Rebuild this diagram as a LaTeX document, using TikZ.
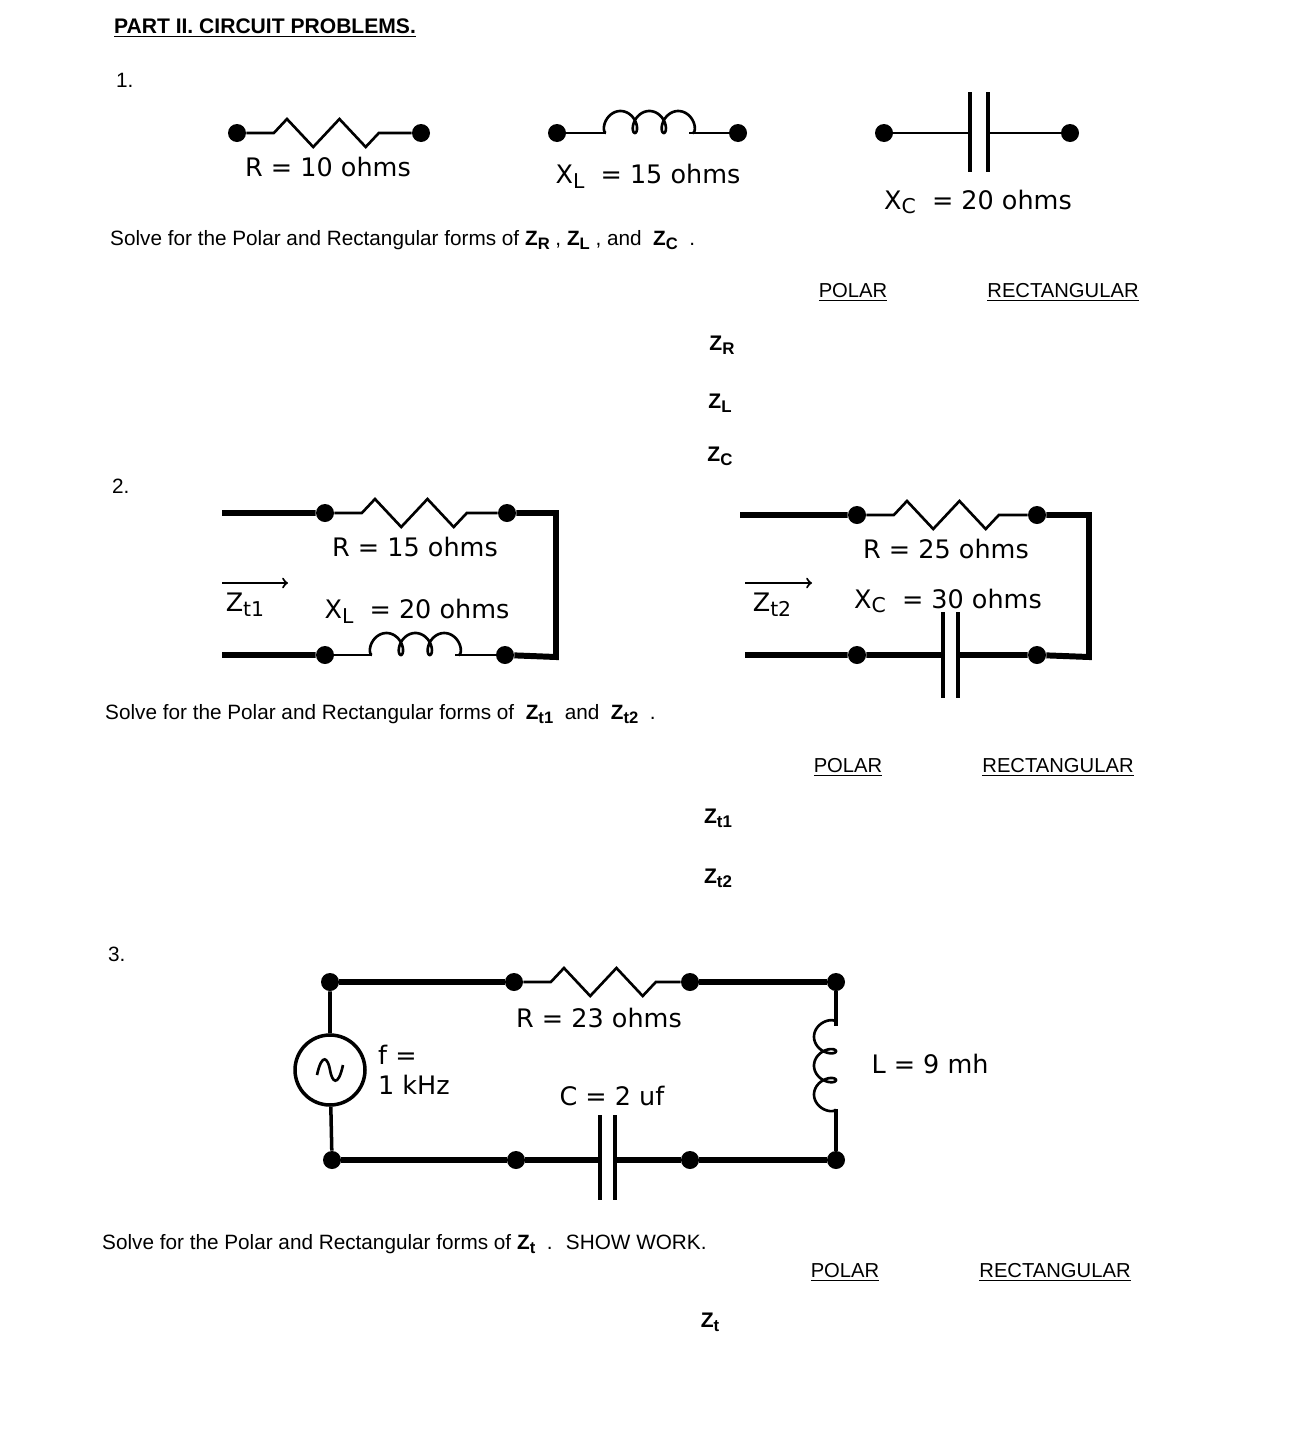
\documentclass[tikz,border=0pt]{standalone}
\usepackage{fontspec}
\setmainfont{Liberation Sans}
\newfontfamily\labelfont{DejaVu Sans}
\usetikzlibrary{positioning, decorations.pathmorphing}
\newcommand{\hd}[1]{\underline{#1}}
\newcommand{\sbs}[1]{\raisebox{-0.35ex}{\fontsize{0.8em}{1em}\selectfont #1}}
\tikzset{
    coil/.pic={
        \draw[line width=1.5pt] plot[smooth, samples=120, domain=0:1080, variable=\t]
            ({4.6*\t*pi/180 - 8*sin(\t)}, {11*(cos(\t)-1)});
    }
}
\begin{document}
\begin{tikzpicture}[
    x=0.02cm, y=-0.02cm,
    dot/.style={circle, fill, inner sep=0, minimum size=0.36cm},
    wire/.style={line width=1.2pt},
    bus/.style={line width=3.4pt},
    res/.style={line width=1.5pt, decorate, decoration={zigzag, segment length=1.05cm, amplitude=0.28cm, pre length=0.55cm, post length=0.45cm}},
    plate/.style={line width=2pt},
    lbl/.style={font=\labelfont\fontsize{14.5}{17}\selectfont},
    txt/.style={font=\fontsize{11.8}{14}\selectfont, anchor=west},
    head/.style={font=\fontsize{11.5}{13}\selectfont},
    zz/.style={font=\bfseries\fontsize{12}{14}\selectfont}
]
    \useasboundingbox (0,0) rectangle (1289,1434);

    % Title and numbers
    \node[font=\bfseries\fontsize{12}{14}\selectfont] (title) at (265,28) {\hd{PART II. CIRCUIT PROBLEMS.}};
    \node[txt] (n1) at (110,80) {1.};
    \node[txt] (n2) at (106,486) {2.};
    \node[txt] (n3) at (102,954) {3.};

    % Problem 1
    \node[dot] (r1a) at (237,133) {};
    \node[dot] (r1b) at (421,133) {};
    \draw[res] (r1a) -- (r1b);
    \node[lbl] (r1lbl) at (328,167) {R = 10 ohms};

    \node[dot] (l1a) at (557,133) {};
    \node[dot] (l1b) at (738,133) {};
    \coordinate (l1p) at (606,133);
    \coordinate (l1q) at (689,133);
    \draw[wire] (l1a) -- (l1p) (l1q) -- (l1b);
    \pic at (l1p) {coil};
    \node[lbl] (l1lbl) at (648,176) {X\sbs{L} \ = 15 ohms};

    \node[dot] (c1a) at (884,133) {};
    \node[dot] (c1b) at (1070,133) {};
    \coordinate (c1p) at (970,133);
    \coordinate (c1q) at (988,133);
    \draw[wire] (c1a) -- (c1p) (c1q) -- (c1b);
    \draw[plate] (970,92) -- (970,172) (988,92) -- (988,172);
    \node[lbl] (c1lbl) at (978,202) {X\sbs{C} \ = 20 ohms};

    \node[txt] (s1) at (104,240) {Solve for the Polar and Rectangular forms of \textbf{Z\sbs{R}} ,\ \textbf{Z\sbs{L}} , and \ \textbf{Z\sbs{C}} \ .};
    \node[head] (p1) at (853,292) {\hd{POLAR}};
    \node[head] (q1) at (1063,292) {\hd{RECTANGULAR}};
    \node[zz] (zr) at (722,345) {Z\sbs{R}};
    \node[zz] (zl) at (720,403) {Z\sbs{L}};
    \node[zz] (zc) at (720,456) {Z\sbs{C}};

    % Problem 2, left
    \coordinate (a1) at (222,513);
    \node[dot] (r2a) at (325,513) {};
    \node[dot] (r2b) at (507,513) {};
    \coordinate (a2) at (556,513);
    \coordinate (a3) at (556,657);
    \node[dot] (l2b) at (505,655) {};
    \node[dot] (l2a) at (325,655) {};
    \coordinate (a4) at (222,655);
    \coordinate (l2p) at (372,655);
    \coordinate (l2q) at (455,655);
    \draw[bus] (a1) -- (r2a) (r2b) -- (a2) -- (a3) -- (l2b) (l2a) -- (a4);
    \draw[res] (r2a) -- (r2b);
    \draw[wire] (l2a) -- (l2p) (l2q) -- (l2b);
    \pic at (l2p) {coil};
    \node[lbl] (r2lbl) at (415,547) {R = 15 ohms};
    \node[lbl] (l2lbl) at (417,611) {X\sbs{L} \ = 20 ohms};
    \node[lbl] (zt1) at (245,605) {Z\sbs{t1}};
    \coordinate (z1a) at (222,583);
    \coordinate (z1b) at (288,583);
    \draw[wire, ->] (z1a) -- (z1b);

    % Problem 2, right
    \coordinate (b1) at (740,515);
    \node[dot] (r3a) at (857,515) {};
    \node[dot] (r3b) at (1037,515) {};
    \coordinate (b2) at (1089,515);
    \coordinate (b3) at (1089,657);
    \node[dot] (c3b) at (1037,655) {};
    \node[dot] (c3a) at (857,655) {};
    \coordinate (b4) at (745,655);
    \coordinate (c3p) at (943,655);
    \coordinate (c3q) at (958,655);
    \draw[bus] (b1) -- (r3a) (r3b) -- (b2) -- (b3) -- (c3b) -- (c3q) (c3p) -- (c3a) -- (b4);
    \draw[res] (r3a) -- (r3b);
    \draw[plate] (943,612) -- (943,698) (958,612) -- (958,698);
    \node[lbl] (r3lbl) at (946,549) {R = 25 ohms};
    \node[lbl] (c3lbl) at (948,601) {X\sbs{C} \ = 30 ohms};
    \node[lbl] (zt2) at (772,605) {Z\sbs{t2}};
    \coordinate (z2a) at (745,583);
    \coordinate (z2b) at (812,583);
    \draw[wire, ->] (z2a) -- (z2b);

    \node[txt] (s2) at (99,714) {Solve for the Polar and Rectangular forms of \ \textbf{Z\sbs{t1}} \ and \ \textbf{Z\sbs{t2}} \ .};
    \node[head] (p2) at (848,767) {\hd{POLAR}};
    \node[head] (q2) at (1058,767) {\hd{RECTANGULAR}};
    \node[zz] (zt1a) at (718,818) {Z\sbs{t1}};
    \node[zz] (zt2a) at (718,878) {Z\sbs{t2}};

    % Problem 3
    \node[dot] (d1) at (330,982) {};
    \node[dot] (r4a) at (514,982) {};
    \node[dot] (r4b) at (690,982) {};
    \node[dot] (d2) at (836,982) {};
    \node[dot] (d3) at (836,1160) {};
    \node[dot] (c4b) at (690,1160) {};
    \node[dot] (c4a) at (516,1160) {};
    \node[dot] (d4) at (332,1160) {};
    \node[draw, circle, line width=2pt, minimum size=1.4cm, inner sep=0] (src) at (330,1070) {};
    \coordinate (c4p) at (600,1160);
    \coordinate (c4q) at (615,1160);
    \coordinate (l4p) at (836,1026);
    \coordinate (l4q) at (836,1109);
    \draw[bus] (d1) -- (r4a) (r4b) -- (d2) (d3) -- (c4b) -- (c4q) (c4p) -- (c4a) -- (d4);
    \draw[line width=2pt] (d1) -- (src) -- (d4);
    \draw[line width=1.5pt] (317,1075) .. controls (322,1052) and (328,1058) .. (330,1070) .. controls (332,1082) and (338,1088) .. (343,1065);
    \draw[res] (r4a) -- (r4b);
    \draw[line width=2pt] (d2) -- (l4p) (l4q) -- (d3);
    \pic[rotate=90] at (l4q) {coil};
    \draw[plate] (600,1115) -- (600,1200) (615,1115) -- (615,1200);
    \node[lbl] (r4lbl) at (599,1018) {R = 23 ohms};
    \node[lbl, anchor=west, align=left] (flbl) at (372,1070) {f =\\1 kHz};
    \node[lbl] (c4lbl) at (612,1096) {C = 2 uf};
    \node[lbl] (l4lbl) at (930,1064) {L = 9 mh};

    \node[txt] (s3) at (96,1244) {Solve for the Polar and Rectangular forms of \textbf{Z\sbs{t}} \ . \ SHOW WORK.};
    \node[head] (p3) at (845,1272) {\hd{POLAR}};
    \node[head] (q3) at (1055,1272) {\hd{RECTANGULAR}};
    \node[zz] (zt) at (710,1322) {Z\sbs{t}};
\end{tikzpicture}
\end{document}
